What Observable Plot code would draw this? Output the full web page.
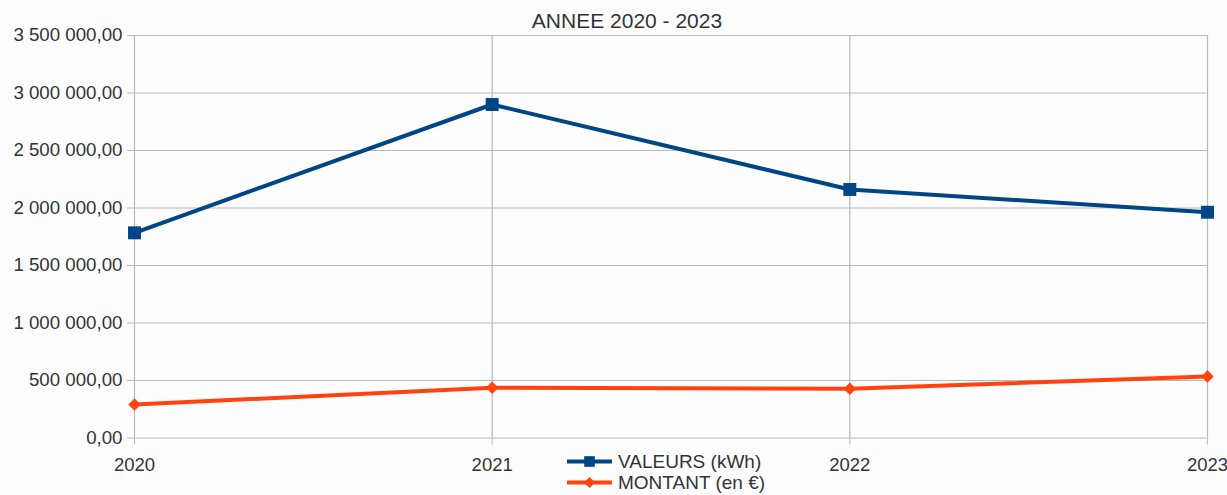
<!DOCTYPE html>
<html>
<head>
<meta charset="utf-8">
<script src="https://cdn.jsdelivr.net/npm/d3@7"></script>
<script src="https://cdn.jsdelivr.net/npm/@observablehq/plot@0.6"></script>
<style>
  html, body { margin: 0; padding: 0; background: #fdfdfd; }
  #wrap { position: relative; width: 1227px; height: 495px; font-family: "Liberation Sans", Arial, sans-serif; color: #333; }
  #title { position: absolute; top: 10px; left: 627px; transform: translateX(-50%); font-size: 21px; line-height: 21px; white-space: nowrap; color: #333; }
  #legend { position: absolute; left: 567px; top: 451px; font-size: 19px; line-height: 21px; color: #333; }
  .row { display: flex; align-items: center; height: 21px; }
  .row svg { margin-right: 6px; }
</style>
</head>
<body>
<div id="wrap">
  <div id="chart"></div>
  <div id="title"></div>
  <div id="legend"></div>
</div>
<script>
const title = "ANNEE 2020 - 2023";
const years = [2020, 2021, 2022, 2023];
const valeurs = [1784000, 2900000, 2161000, 1963000];
const montant = [291000, 437000, 428000, 535000];
const yTicks = [0, 500000, 1000000, 1500000, 2000000, 2500000, 3000000, 3500000];
const seriesNames = ["VALEURS (kWh)", "MONTANT (en €)"];
const seriesColors = ["#004586", "#ff420e"];
const seriesSymbols = ["square", "diamond2"];

const fr = d3.formatLocale({decimal: ",", thousands: " ", grouping: [3], currency: ["", " €"]});
const fmt = fr.format(",.2f");

const data = [
  ...years.map((y, i) => ({year: y, value: valeurs[i], series: seriesNames[0]})),
  ...years.map((y, i) => ({year: y, value: montant[i], series: seriesNames[1]}))
];

const gridColor = "#b9b9b9";

const chart = Plot.plot({
  width: 1227,
  height: 495,
  marginLeft: 134,
  marginRight: 20,
  marginTop: 35,
  marginBottom: 57.5,
  style: {fontFamily: "'Liberation Sans', Arial, sans-serif", fontSize: "18px", color: "#333", background: "transparent"},
  x: {domain: [2020, 2023], ticks: years, tickFormat: d => String(d)},
  y: {domain: [0, 3500000], ticks: yTicks, tickFormat: fmt},
  color: {domain: seriesNames, range: seriesColors},
  symbol: {domain: seriesNames, range: seriesSymbols},
  marks: [
    Plot.gridY(yTicks, {stroke: gridColor, strokeOpacity: 1, strokeWidth: 1.2}),
    Plot.gridX(years, {stroke: gridColor, strokeOpacity: 1, strokeWidth: 1.2}),
    Plot.axisY(yTicks, {tickFormat: fmt, tickSize: 7, tickPadding: 5, stroke: gridColor, fontSize: 18.7, fill: "#333", label: null}),
    Plot.axisX(years, {tickFormat: d => String(d), tickSize: 7, tickPadding: 13, stroke: gridColor, fontSize: 18.5, fill: "#333", label: null}),
    Plot.line(data, {x: "year", y: "value", z: "series", stroke: "series", strokeWidth: 4}),
    Plot.dot(data.filter(d => d.series === seriesNames[0]), {x: "year", y: "value", symbol: "series", fill: "series", r: 7.3, stroke: "none"}),
    Plot.dot(data.filter(d => d.series === seriesNames[1]), {x: "year", y: "value", symbol: "series", fill: "series", r: 5.6, stroke: "none"})
  ]
});
document.getElementById("chart").appendChild(chart);
document.getElementById("title").textContent = title;

const legend = document.getElementById("legend");
seriesNames.forEach((name, i) => {
  const row = document.createElement("div");
  row.className = "row";
  const ns = "http://www.w3.org/2000/svg";
  const svg = document.createElementNS(ns, "svg");
  svg.setAttribute("width", 45);
  svg.setAttribute("height", 21);
  const line = document.createElementNS(ns, "line");
  line.setAttribute("x1", 0); line.setAttribute("x2", 45);
  line.setAttribute("y1", 10.5); line.setAttribute("y2", 10.5);
  line.setAttribute("stroke", seriesColors[i]); line.setAttribute("stroke-width", 4);
  svg.appendChild(line);
  const sym = document.createElementNS(ns, "path");
  const symType = i === 0 ? d3.symbolSquare : d3.symbolDiamond2;
  const size = i === 0 ? Math.PI * 6 * 6 : Math.PI * 5 * 5;
  sym.setAttribute("d", d3.symbol(symType, size)());
  sym.setAttribute("transform", "translate(22.5,10.5)");
  sym.setAttribute("fill", seriesColors[i]);
  svg.appendChild(sym);
  row.appendChild(svg);
  const span = document.createElement("span");
  span.textContent = name;
  row.appendChild(span);
  legend.appendChild(row);
});
</script>
</body>
</html>
